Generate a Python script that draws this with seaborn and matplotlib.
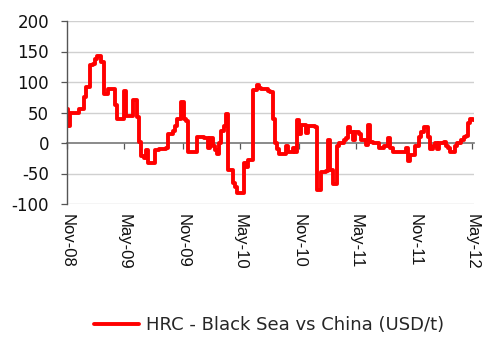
import matplotlib
matplotlib.use("Agg")
import matplotlib.pyplot as plt
import matplotlib.dates as mdates
import numpy as np
import pandas as pd
import seaborn as sns

# Weekly HRC price spread, Black Sea minus China (USD/t)
start_date = "2008-11-01"
spread_usd_t = [
    55, 28, 50, 50, 50, 50, 55, 55, 75, 92,
    92, 128, 130, 138, 143, 143, 132, 80, 80, 88,
    88, 88, 62, 40, 40, 40, 86, 44, 44, 44,
    70, 70, 42, 2, -22, -25, -12, -33, -33, -33,
    -12, -12, -10, -10, -10, -8, 14, 14, 20, 28,
    40, 40, 67, 40, 36, -15, -15, -15, -15, 10,
    10, 10, 8, 8, -8, 8, -5, -12, -18, 0,
    20, 28, 47, -44, -45, -65, -72, -82, -82, -82,
    -33, -40, -28, -28, 87, 87, 95, 90, 88, 88,
    88, 86, 84, 40, 0, -10, -18, -18, -18, -5,
    -15, -15, -8, -15, 38, 15, 30, 30, 16, 28,
    28, 28, 27, -77, -77, -48, -48, -46, 5, -45,
    -67, -67, -5, 0, 0, 5, 8, 26, 18, 5,
    18, 18, 15, 5, 5, -3, 30, 2, 0, 0,
    0, -8, -8, -5, -5, 8, -8, -14, -14, -14,
    -14, -14, -14, -8, -30, -20, -20, -5, -5, 10,
    18, 26, 26, 10, -10, -5, 0, -10, 0, 0,
    2, -5, -8, -14, -14, -5, 0, 0, 5, 10,
    12, 32, 40, 37,
]
series_label = "HRC - Black Sea vs China (USD/t)"
y_ticks = [-100, -50, 0, 50, 100, 150, 200]
x_tick_dates = ["2008-11-01", "2009-05-01", "2009-11-01", "2010-05-01",
                "2010-11-01", "2011-05-01", "2011-11-01", "2012-05-01"]

df = pd.DataFrame({
    "date": pd.date_range(start_date, periods=len(spread_usd_t), freq="7D"),
    "spread": spread_usd_t,
})

sns.set_theme(style="white")
plt.rcParams["font.family"] = ["Liberation Sans", "DejaVu Sans"]

fig = plt.figure(figsize=(4.86, 3.38), dpi=100)
ax = fig.add_axes([67 / 486, 1 - 204 / 338, (474 - 67) / 486, (204 - 21) / 338])

sns.lineplot(data=df, x="date", y="spread", ax=ax, color="#FF0000",
             linewidth=2.8, label=series_label, drawstyle="steps-mid",
             solid_joinstyle="round", solid_capstyle="round")

ax.set_ylim(-100, 200)
ax.set_xlim(pd.Timestamp("2008-11-01"), pd.Timestamp("2012-05-06"))
ax.set_yticks(y_ticks)
ax.set_yticklabels([str(v) for v in y_ticks], fontsize=12, color="#111111",
                   family=["DejaVu Sans"])
for v in y_ticks:
    if v != 0:
        ax.axhline(v, color="#D0D0D0", linewidth=1.0, zorder=0)

tick_ts = pd.to_datetime(x_tick_dates)
ax.set_xticks(tick_ts)
ax.xaxis.set_major_formatter(mdates.DateFormatter("%b-%y"))
for lab in ax.get_xticklabels():
    lab.set_rotation(270)
    lab.set_fontsize(12)
    lab.set_color("#111111")
    lab.set_va("top")
    lab.set_ha("center")
ax.tick_params(axis="x", length=0, pad=7)
ax.tick_params(axis="y", length=4, width=0.9, color="#555555",
               direction="out", left=True, pad=9)

ax.set_xlabel("")
ax.set_ylabel("")
for side in ("top", "right", "bottom"):
    ax.spines[side].set_visible(False)
ax.spines["left"].set_color("#555555")
ax.spines["left"].set_linewidth(1.0)

# Category axis crossing at zero, with its own tick marks
zero_frac = (0 - (-100)) / (200 - (-100))
sec = ax.secondary_xaxis(zero_frac)
sec.set_xticks(mdates.date2num(tick_ts))
sec.set_xticklabels([])
sec.tick_params(axis="x", length=4, width=0.9, color="#555555", direction="out")
sec.spines["bottom"].set_color("#777777")
sec.spines["bottom"].set_linewidth(1.2)

handles, labels = ax.get_legend_handles_labels()
ax.get_legend().remove()
fig.legend(handles, labels, loc="center", bbox_to_anchor=(269 / 486, 1 - 325 / 338),
           frameon=False, prop={"family": "DejaVu Sans", "size": 13},
           handlelength=2.5, handletextpad=0.4)

fig.savefig("out.png", dpi=100)
